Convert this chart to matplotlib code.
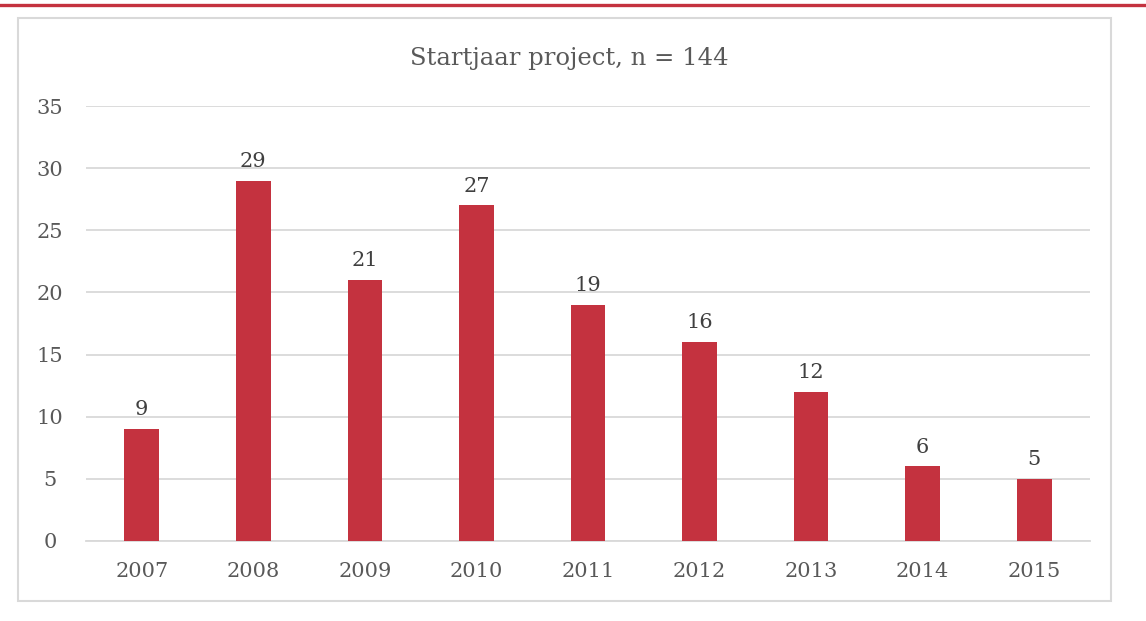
import matplotlib
matplotlib.use("Agg")
import matplotlib.pyplot as plt
from matplotlib.patches import Rectangle
from matplotlib.lines import Line2D

years = ["2007", "2008", "2009", "2010", "2011", "2012", "2013", "2014", "2015"]
counts = [9, 29, 21, 27, 19, 16, 12, 6, 5]
y_ticks = [0, 5, 10, 15, 20, 25, 30, 35]
title = "Startjaar project, n = 144"

BAR = "#C4323F"
TEXT = "#595959"
GRID = "#D9D9D9"

plt.rcParams["font.family"] = ["DejaVu Serif"]

W, H = 1146, 621
fig = plt.figure(figsize=(W / 100, H / 100), dpi=100)
fig.patch.set_facecolor("white")

# red rule along the top of the page
fig.add_artist(Line2D([0, 1], [1 - 4.5 / H, 1 - 4.5 / H], color=BAR, lw=2.4,
                      transform=fig.transFigure))
# chart frame
fig.add_artist(Rectangle((18 / W, 1 - 601 / H), (1111 - 18) / W, (601 - 18) / H,
                         transform=fig.transFigure, fill=False,
                         edgecolor=GRID, lw=1.5))

left, right, top, bottom = 86, 1090, 106, 541
ax = fig.add_axes([left / W, 1 - bottom / H, (right - left) / W, (bottom - top) / H])

x = list(range(len(years)))
bars = ax.bar(x, counts, width=0.31, color=BAR, zorder=3)
for xi, v in zip(x, counts):
    ax.annotate(str(v), (xi, v), xytext=(0, 7), textcoords="offset points",
                ha="center", va="bottom", fontsize=15, color="#404040")

ax.set_xlim(-0.5, len(years) - 0.5)
ax.set_ylim(0, 35)
ax.set_yticks(y_ticks)
ax.set_xticks(x)
ax.set_xticklabels(years)
ax.tick_params(axis="both", length=0, labelsize=15, labelcolor=TEXT)
ax.tick_params(axis="x", pad=15)
ax.tick_params(axis="y", pad=26)
for lbl in ax.get_yticklabels():
    lbl.set_horizontalalignment("center")
ax.yaxis.grid(True, color=GRID, lw=1.3, zorder=0)
for s in ["left", "right", "top"]:
    ax.spines[s].set_visible(False)
ax.spines["bottom"].set_color(GRID)
ax.spines["bottom"].set_linewidth(1.3)

fig.text(569 / W, 1 - 58 / H, title, ha="center", va="center",
         fontsize=17.5, color=TEXT)

fig.savefig("out.png", dpi=100)
